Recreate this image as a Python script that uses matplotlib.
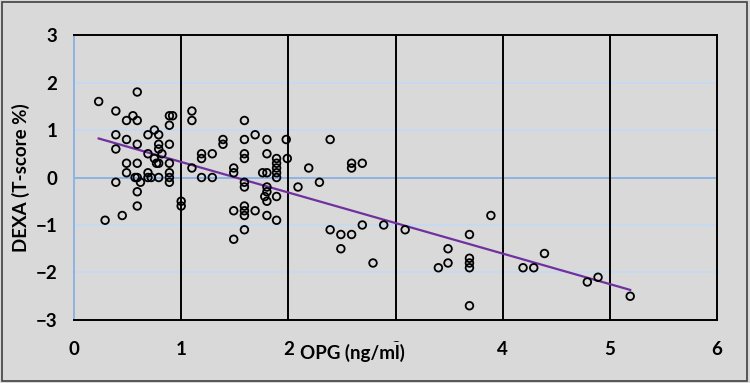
import numpy as np
import matplotlib
matplotlib.use('Agg')
import matplotlib.pyplot as plt
from matplotlib.patches import Rectangle

# OPG (ng/ml) vs DEXA T-score
opg = [0.23, 0.29, 0.39, 0.39, 0.39, 0.39, 0.45, 0.49, 0.49, 0.49, 0.49, 0.55, 0.57,
       0.59, 0.59, 0.59, 0.59, 0.59, 0.59, 0.59, 0.62, 0.69, 0.69, 0.69, 0.69, 0.72,
       0.75, 0.75, 0.79, 0.79, 0.79, 0.79, 0.79, 0.82, 0.77, 0.89, 0.92, 0.89, 0.89,
       0.89, 0.89, 0.89, 0.89, 1.00, 1.00, 1.10, 1.10, 1.10, 1.19, 1.19, 1.19, 1.29,
       1.29, 1.39, 1.39, 1.49, 1.49, 1.49, 1.49, 1.59, 1.59, 1.59, 1.59, 1.59, 1.59,
       1.59, 1.59, 1.59, 1.59, 1.69, 1.69, 1.76, 1.80, 1.80, 1.80, 1.80, 1.80, 1.78,
       1.80, 1.80, 1.89, 1.89, 1.89, 1.89, 1.89, 1.89, 1.89, 1.98, 1.99, 2.09, 2.19,
       2.29, 2.39, 2.39, 2.49, 2.49, 2.59, 2.59, 2.59, 2.69, 2.69, 2.79, 2.89, 3.09,
       3.40, 3.49, 3.49, 3.69, 3.69, 3.69, 3.69, 3.69, 3.89, 4.19, 4.29, 4.39, 4.79,
       4.89, 5.19]
dexa = [1.6, -0.9, 1.4, 0.9, 0.6, -0.1, -0.8, 1.2, 0.8, 0.3, 0.1, 1.3, 0.0,
        1.8, 1.2, 0.7, 0.3, 0.0, -0.3, -0.6, -0.1, 0.9, 0.5, 0.1, 0.0, 0.0,
        1.0, 0.4, 0.9, 0.7, 0.6, 0.3, 0.0, 0.5, 0.3, 1.3, 1.3, 1.1, 0.7,
        0.3, 0.1, 0.0, -0.1, -0.5, -0.6, 1.4, 1.2, 0.2, 0.5, 0.4, 0.0, 0.5,
        0.0, 0.8, 0.7, 0.2, 0.1, -0.7, -1.3, 1.2, 0.8, 0.5, 0.4, -0.1, -0.2,
        -0.6, -0.7, -0.8, -1.1, 0.9, -0.7, 0.1, 0.8, 0.5, 0.1, -0.2, -0.3, -0.4,
        -0.5, -0.8, 0.4, 0.3, 0.2, 0.1, 0.0, -0.4, -0.9, 0.8, 0.4, -0.2, 0.2,
        -0.1, 0.8, -1.1, -1.2, -1.5, 0.3, 0.2, -1.2, 0.3, -1.0, -1.8, -1.0, -1.1,
        -1.9, -1.5, -1.8, -1.2, -1.7, -1.8, -1.9, -2.7, -0.8, -1.9, -1.9, -1.6, -2.2,
        -2.1, -2.5]

x_ticks = [0, 1, 2, 3, 4, 5, 6]
y_ticks = [-3, -2, -1, 0, 1, 2, 3]

plt.rcParams['font.family'] = ['Lato', 'DejaVu Sans']
bg = '#d9d9d9'

fig = plt.figure(figsize=(7.5, 3.83), dpi=100, facecolor=bg)
fig.patches.append(Rectangle((0.003, 0.006), 0.993, 0.99, transform=fig.transFigure,
                             fill=False, edgecolor='#404040', linewidth=1.2))
ax = fig.add_axes([0.0987, 0.1645, 0.8573, 0.7441])
ax.set_facecolor(bg)

# gridlines
for yv in y_ticks:
    if yv == 0:
        ax.axhline(yv, color='#8db3e2', lw=1.4, zorder=1)
    elif abs(yv) < 3:
        ax.axhline(yv, color='#c6d9f1', lw=1.4, zorder=1)
for xv in x_ticks[1:-1]:
    ax.axvline(xv, color='black', lw=1.4, zorder=1)

ax.scatter(opg, dexa, s=30, facecolors='none', edgecolors='black', linewidths=1.3, zorder=3)

# linear trendline
slope, inter = np.polyfit(opg, dexa, 1)
xs = np.array([min(opg), max(opg)])
ax.plot(xs, slope * xs + inter, color='#7030a0', lw=1.6, zorder=2)

ax.set_xlim(0, 6)
ax.set_ylim(-3, 3)
ax.set_xticks(x_ticks)
ax.set_yticks(y_ticks)
ax.tick_params(length=0, labelsize=13.5)
ax.tick_params(axis='y', pad=12)
ax.tick_params(axis='x', pad=15)
for lab in ax.get_xticklabels() + ax.get_yticklabels():
    lab.set_fontweight('bold')

for side in ['top', 'right', 'bottom']:
    ax.spines[side].set_color('black')
    ax.spines[side].set_linewidth(1.4)
ax.spines['left'].set_color('#8db3e2')
ax.spines['left'].set_linewidth(1.4)

# the axis title sits on the tick row, as in the reference, and covers the "3"
fig.text(0.47, 0.078, 'OPG (ng/ml)', ha='center', va='center', fontsize=13.5, fontweight='bold',
         bbox=dict(facecolor=bg, edgecolor='none', pad=1.5), zorder=10)
fig.text(0.028, 0.535, 'DEXA (T-score %)', ha='center', va='center', rotation=90,
         fontsize=13.5, fontweight='bold')

fig.savefig('out.png', dpi=100, facecolor=bg)
